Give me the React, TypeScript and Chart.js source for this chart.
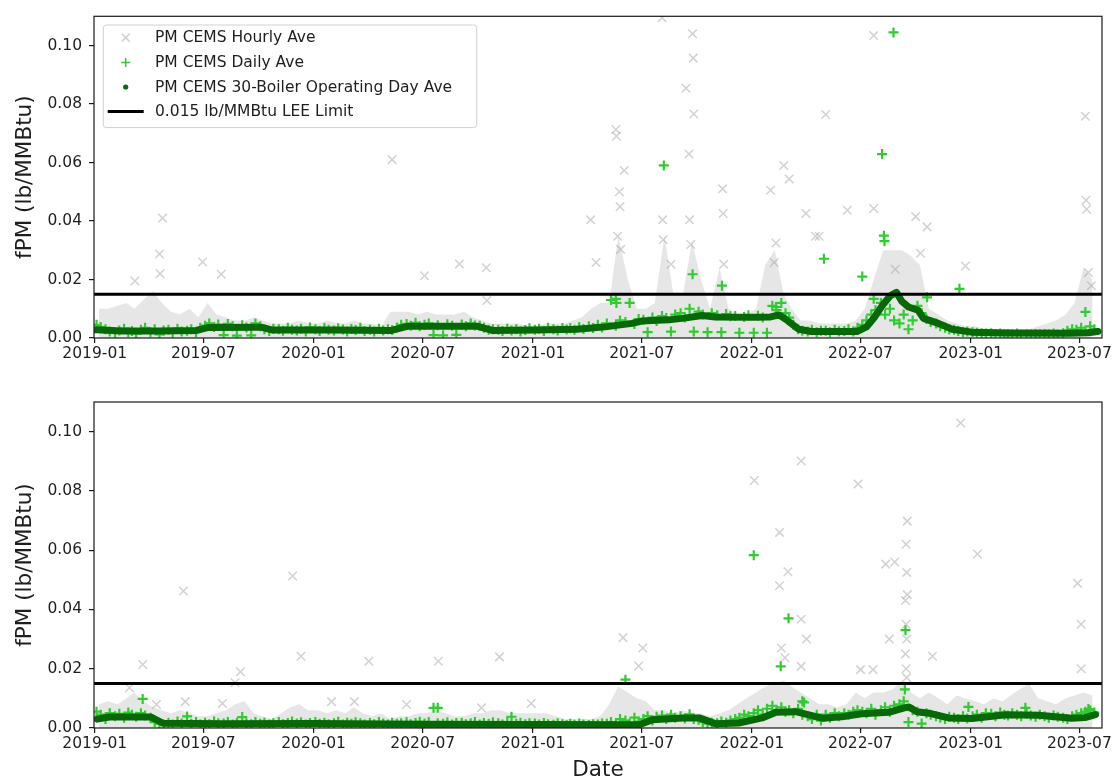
import React, { useEffect, useRef } from 'react';
import { Chart, registerables } from 'chart.js';

Chart.register(...registerables);

type Pair = [string, number];

// ---------- axes / text ----------
const X_TICK_LABELS = ['2019-01', '2019-07', '2020-01', '2020-07', '2021-01', '2021-07', '2022-01', '2022-07', '2023-01', '2023-07'];
const Y_TICKS = [0, 0.02, 0.04, 0.06, 0.08, 0.1];
const Y_LABEL = 'fPM (lb/MMBtu)';
const X_LABEL = 'Date';
const LEGEND_LABELS = ['PM CEMS Hourly Ave', 'PM CEMS Daily Ave', 'PM CEMS 30-Boiler Operating Day Ave', '0.015 lb/MMBtu LEE Limit'];
const LEE_LIMIT = 0.015;
const Y_MIN = 0;
const Y_MAX = 0.11;
const X_START = '2018-12-30';
const X_END = '2023-08-08';

// sampling grids (days of month) for dense clouds, one value per grid day, months from 2019-01
const DAILY_GRID_DAYS = [4, 11, 19, 26];
const BAND_GRID_DAYS = [8, 23];

// ---------- TOP PANEL ----------
const topAvg30: Pair[] = [
  ['2019-01-03', 0.0028], ['2019-02-15', 0.0024], ['2019-04-15', 0.0024], ['2019-06-20', 0.0026],
  ['2019-07-10', 0.0036], ['2019-10-05', 0.0037], ['2019-10-25', 0.0027], ['2020-02-01', 0.0027],
  ['2020-05-10', 0.0026], ['2020-06-05', 0.004], ['2020-10-01', 0.004], ['2020-10-25', 0.0026],
  ['2021-01-01', 0.0027], ['2021-03-15', 0.003], ['2021-05-01', 0.0038], ['2021-06-15', 0.005],
  ['2021-07-01', 0.0058], ['2021-08-15', 0.0062], ['2021-09-10', 0.0068], ['2021-10-10', 0.0077],
  ['2021-11-01', 0.0072], ['2022-01-01', 0.0071], ['2022-02-01', 0.0072], ['2022-02-15', 0.0079],
  ['2022-03-01', 0.006], ['2022-03-20', 0.003], ['2022-04-10', 0.0022], ['2022-06-25', 0.0022],
  ['2022-07-11', 0.0038], ['2022-07-24', 0.007], ['2022-08-06', 0.011], ['2022-08-20', 0.0145],
  ['2022-08-30', 0.0156], ['2022-09-08', 0.0125], ['2022-09-19', 0.0106], ['2022-10-05', 0.0095],
  ['2022-10-14', 0.0067], ['2022-11-08', 0.005], ['2022-12-01', 0.003], ['2023-01-02', 0.002],
  ['2023-03-01', 0.0017], ['2023-06-15', 0.0016], ['2023-07-15', 0.0018], ['2023-08-01', 0.0022],
];

const topDailyBand: number[] = [
  // 2019
  .0045, .0038, .0030, .0022, .0018, .0026, .0032, .0020, .0024, .0015, .0028, .0035,
  .0020, .0030, .0012, .0026, .0028, .0018, .0032, .0022, .0025, .0030, .0020, .0035,
  .0042, .0050, .0038, .0046, .0010, .0048, .0040, .0008, .0044, .0036, .0009, .0050,
  .0040, .0030, .0024, .0032, .0030, .0025, .0035, .0028, .0026, .0032, .0022, .0036,
  // 2020
  .0030, .0024, .0034, .0028, .0026, .0033, .0029, .0022, .0031, .0027, .0035, .0024,
  .0028, .0022, .0032, .0026, .0030, .0027, .0036, .0045, .0048, .0042, .0052, .0040,
  .0045, .0050, .0010, .0044, .0009, .0047, .0042, .0011, .0046, .0040, .0050, .0043,
  .0042, .0035, .0028, .0030, .0028, .0024, .0032, .0026, .0030, .0022, .0027, .0033,
  // 2021
  .0028, .0032, .0024, .0035, .0030, .0026, .0034, .0029, .0033, .0028, .0038, .0031,
  .0040, .0034, .0045, .0036, .0050, .0130, .0042, .0060, .0055, .0120, .0048, .0065,
  .0062, .0020, .0070, .0058, .0075, .0068, .0022, .0080, .0085, .0070, .0100, .0022,
  .0090, .0080, .0020, .0085, .0078, .0020, .0082, .0074, .0075, .0018, .0072, .0078,
  // 2022
  .0018, .0076, .0070, .0018, .0110, .0095, .0120, .0085, .0070, .0045, .0030, .0025,
  .0022, .0028, .0020, .0025, .0025, .0020, .0028, .0023, .0024, .0030, .0022, .0035,
  .0045, .0060, .0080, .0095, .0120, .0080, .0100, .0060, .0050, .0080, .0030, .0060,
  .0110, .0085, .0065, .0055, .0050, .0040, .0035, .0030, .0028, .0024, .0020, .0022,
  // 2023
  .0020, .0018, .0016, .0015, .0016, .0014, .0015, .0013, .0014, .0013, .0015, .0012,
  .0013, .0012, .0014, .0013, .0014, .0013, .0015, .0012, .0016, .0025, .0030, .0028,
  .0035, .0025, .0040, .0030,
];

const topDailyExtra: Pair[] = [
  ['2021-05-19', 0.0134], ['2021-05-20', 0.012], ['2021-08-07', 0.059], ['2021-09-24', 0.0218],
  ['2021-11-12', 0.0179], ['2022-02-10', 0.0106], ['2022-05-01', 0.0271], ['2022-07-04', 0.021],
  ['2022-07-23', 0.0134], ['2022-08-06', 0.0629], ['2022-08-09', 0.035], ['2022-08-10', 0.0331],
  ['2022-08-25', 0.1045], ['2022-10-20', 0.0139], ['2022-12-13', 0.0168], ['2023-07-11', 0.0089],
];

const topHourlyBand: number[] = [
  // 2019
  .010, .010, .011, .012, .010, .013, .016, .012, .009, .008, .010, .007,
  .012, .008, .007, .006, .006, .007, .006, .005, .005, .005, .006, .005,
  // 2020
  .005, .006, .005, .005, .006, .005, .005, .004, .009, .009, .009, .008,
  .009, .008, .008, .008, .009, .007, .006, .005, .005, .005, .005, .004,
  // 2021
  .004, .005, .005, .005, .006, .007, .010, .012, .012, .035, .020, .010,
  .010, .012, .035, .015, .015, .033, .020, .010, .024, .010, .008, .008,
  // 2022
  .010, .025, .030, .015, .010, .006, .006, .005, .005, .005, .005, .006,
  .010, .020, .030, .030, .030, .028, .025, .010, .008, .006, .005, .004,
  // 2023
  .004, .003, .003, .003, .003, .003, .003, .004, .005, .006, .008, .012,
  .024, .020,
];

const topHourly: Pair[] = [
  ['2019-03-09', 0.0195], ['2019-04-19', 0.0287], ['2019-04-24', 0.041], ['2019-04-20', 0.022],
  ['2019-06-30', 0.026], ['2019-07-31', 0.0218], ['2020-05-11', 0.061], ['2020-07-04', 0.0213],
  ['2020-08-31', 0.0253], ['2020-10-15', 0.024], ['2020-10-16', 0.0128], ['2021-04-07', 0.0404],
  ['2021-04-16', 0.0258], ['2021-05-19', 0.0713], ['2021-05-20', 0.069], ['2021-06-02', 0.0573],
  ['2021-05-25', 0.05], ['2021-05-26', 0.0449], ['2021-05-22', 0.0348], ['2021-05-27', 0.0303],
  ['2021-08-04', 0.1095], ['2021-08-05', 0.0404], ['2021-08-06', 0.0336], ['2021-08-19', 0.0252],
  ['2021-09-13', 0.0854], ['2021-09-18', 0.0629], ['2021-09-19', 0.0404], ['2021-09-21', 0.032],
  ['2021-09-24', 0.104], ['2021-09-25', 0.0957], ['2021-09-26', 0.0766], ['2021-11-13', 0.051],
  ['2021-11-14', 0.0426], ['2021-11-15', 0.0252], ['2022-02-01', 0.0505], ['2022-02-07', 0.0258],
  ['2022-02-10', 0.0325], ['2022-02-23', 0.059], ['2022-03-04', 0.0544], ['2022-04-01', 0.0426],
  ['2022-04-17', 0.0348], ['2022-04-23', 0.0348], ['2022-05-04', 0.0764], ['2022-06-09', 0.0437],
  ['2022-07-23', 0.0443], ['2022-07-23', 0.1034], ['2022-08-28', 0.0235], ['2022-10-01', 0.0415],
  ['2022-10-09', 0.029], ['2022-10-20', 0.038], ['2022-12-23', 0.0246], ['2023-07-11', 0.0758],
  ['2023-07-12', 0.0471], ['2023-07-13', 0.044], ['2023-07-16', 0.0224], ['2023-07-21', 0.0179],
];

// ---------- BOTTOM PANEL ----------
const botAvg30: Pair[] = [
  ['2019-01-05', 0.003], ['2019-01-25', 0.0037], ['2019-04-05', 0.0037], ['2019-04-25', 0.0016],
  ['2019-08-01', 0.0014], ['2020-01-01', 0.0015], ['2020-07-01', 0.0013], ['2021-01-01', 0.0012],
  ['2021-06-27', 0.0011], ['2021-07-19', 0.0028], ['2021-09-07', 0.0034], ['2021-10-05', 0.0034],
  ['2021-11-02', 0.0014], ['2021-12-10', 0.0017], ['2022-01-18', 0.0034], ['2022-02-10', 0.0053],
  ['2022-03-15', 0.0055], ['2022-04-28', 0.0033], ['2022-05-31', 0.0038], ['2022-07-03', 0.0048],
  ['2022-08-17', 0.0053], ['2022-09-12', 0.0068], ['2022-09-20', 0.0071], ['2022-10-03', 0.0055],
  ['2022-10-23', 0.005], ['2022-11-25', 0.0034], ['2023-01-03', 0.0032], ['2023-02-28', 0.0045],
  ['2023-04-24', 0.0043], ['2023-06-18', 0.0033], ['2023-07-10', 0.0035], ['2023-07-28', 0.0045],
];

const botDailyBand: number[] = [
  // 2019
  .0055, .0045, .0030, .0050, .0040, .0048, .0035, .0052, .0045, .0038, .0050, .0042,
  .0035, .0020, .0015, .0012, .0018, .0012, .0022, .0015, .0039, .0014, .0020, .0012,
  .0018, .0013, .0022, .0016, .0015, .0020, .0012, .0018, .0037, .0016, .0013, .0020,
  .0014, .0018, .0012, .0016, .0020, .0013, .0017, .0022, .0015, .0019, .0012, .0017,
  // 2020
  .0020, .0014, .0018, .0013, .0016, .0021, .0012, .0018, .0014, .0019, .0016, .0012,
  .0017, .0013, .0020, .0015, .0012, .0018, .0014, .0016, .0019, .0013, .0017, .0021,
  .0015, .0020, .0068, .0016, .0014, .0019, .0012, .0017, .0018, .0013, .0016, .0020,
  .0012, .0017, .0014, .0019, .0016, .0012, .0020, .0038, .0014, .0018, .0013, .0016,
  // 2021
  .0015, .0012, .0017, .0013, .0011, .0016, .0013, .0010, .0014, .0011, .0015, .0012,
  .0010, .0013, .0012, .0015, .0014, .0020, .0012, .0030, .0025, .0015, .0035, .0022,
  .0030, .0040, .0025, .0038, .0042, .0030, .0045, .0035, .0040, .0032, .0046, .0030,
  .0028, .0020, .0015, .0018, .0016, .0022, .0018, .0025, .0030, .0035, .0045, .0040,
  // 2022
  .0050, .0060, .0045, .0065, .0075, .0060, .0070, .0055, .0060, .0050, .0065, .0045,
  .0040, .0030, .0045, .0025, .0045, .0035, .0050, .0040, .0050, .0045, .0055, .0060,
  .0055, .0050, .0065, .0045, .0060, .0070, .0055, .0075, .0080, .0090, .0020, .0060,
  .0055, .0015, .0050, .0045, .0040, .0035, .0030, .0038, .0035, .0030, .0040, .0032,
  // 2023
  .0040, .0045, .0035, .0050, .0048, .0040, .0052, .0045, .0042, .0050, .0045, .0040,
  .0048, .0042, .0038, .0045, .0040, .0035, .0042, .0038, .0035, .0030, .0040, .0045,
  .0050, .0055, .0060, .0052,
];

const botDailyExtra: Pair[] = [
  ['2019-03-22', 0.0098], ['2020-07-26', 0.0068], ['2021-06-04', 0.0163], ['2022-01-04', 0.0583],
  ['2022-02-18', 0.0208], ['2022-03-03', 0.037], ['2022-03-26', 0.009], ['2022-03-29', 0.0086],
  ['2022-09-13', 0.013], ['2022-09-14', 0.033], ['2022-12-28', 0.0071], ['2023-04-02', 0.0068],
  ['2023-07-16', 0.0064],
];

const botHourlyBand: number[] = [
  // 2019
  .008, .009, .008, .010, .012, .009, .007, .006, .005, .006, .005, .004,
  .004, .005, .006, .008, .009, .005, .004, .003, .005, .007, .008, .006,
  // 2020
  .006, .005, .006, .005, .007, .005, .004, .005, .003, .004, .004, .005,
  .005, .006, .005, .004, .004, .005, .005, .006, .006, .005, .005, .005,
  // 2021
  .005, .005, .004, .003, .003, .003, .003, .004, .008, .014, .012, .010,
  .009, .006, .006, .005, .006, .005, .005, .004, .005, .006, .008, .010,
  // 2022
  .012, .014, .015, .016, .014, .012, .010, .008, .008, .007, .008, .012,
  .010, .012, .012, .013, .016, .012, .010, .012, .010, .008, .011, .010,
  // 2023
  .009, .008, .010, .009, .011, .013, .015, .010, .009, .008, .010, .011,
  .012, .011,
];

const botHourly: Pair[] = [
  ['2019-02-28', 0.0136], ['2019-03-22', 0.0214], ['2019-04-14', 0.0079], ['2019-05-29', 0.0462],
  ['2019-06-01', 0.0089], ['2019-08-02', 0.0083], ['2019-08-23', 0.0153], ['2019-09-01', 0.019],
  ['2019-11-27', 0.0513], ['2019-12-11', 0.0242], ['2020-01-31', 0.0089], ['2020-03-09', 0.0089],
  ['2020-04-02', 0.0225], ['2020-06-04', 0.0079], ['2020-07-27', 0.0225], ['2020-10-07', 0.0068],
  ['2020-11-06', 0.024], ['2020-12-29', 0.0083], ['2021-05-31', 0.0305], ['2021-06-26', 0.0209],
  ['2021-07-03', 0.027], ['2022-01-05', 0.0835], ['2022-02-16', 0.066], ['2022-02-16', 0.048],
  ['2022-02-19', 0.027], ['2022-02-25', 0.0237], ['2022-03-02', 0.0527], ['2022-03-24', 0.0901],
  ['2022-03-24', 0.0367], ['2022-03-24', 0.0208], ['2022-04-02', 0.03], ['2022-06-27', 0.0823],
  ['2022-07-01', 0.0197], ['2022-07-22', 0.0197], ['2022-08-12', 0.0553], ['2022-08-18', 0.03],
  ['2022-08-27', 0.056], ['2022-09-14', 0.043], ['2022-09-14', 0.025], ['2022-09-15', 0.062],
  ['2022-09-15', 0.035], ['2022-09-15', 0.02], ['2022-09-16', 0.0525], ['2022-09-16', 0.03],
  ['2022-09-16', 0.017], ['2022-09-17', 0.0698], ['2022-09-17', 0.045], ['2022-10-29', 0.0242],
  ['2022-12-15', 0.1029], ['2023-01-12', 0.0587], ['2023-06-28', 0.0488], ['2023-07-04', 0.035],
  ['2023-07-04', 0.02],
];

// ---------- styling ----------
const FONT = '"DejaVu Sans", "Liberation Sans", sans-serif';
const TEXT = '#1e1e1e';
const HOURLY_COLOR = 'rgba(155,155,155,0.45)';
const HOURLY_FILL = 'rgba(190,190,190,0.38)';
const DAILY_COLOR = '#2fcc2f';
const AVG_COLOR = '#066806';

const ORIGIN = Date.UTC(2019, 0, 1);
const DAY_MS = 86400000;
const dayOf = (s: string) => {
  const [y, m, d] = s.split('-').map(Number);
  return (Date.UTC(y, m - 1, d || 1) - ORIGIN) / DAY_MS;
};
const gridPoints = (values: number[], days: number[]) =>
  values.map((v, i) => ({
    x: (Date.UTC(2019, Math.floor(i / days.length), days[i % days.length]) - ORIGIN) / DAY_MS,
    y: v,
  }));
const pairPoints = (pairs: Pair[]) => pairs.map(([d, v]) => ({ x: dayOf(d), y: v }));

interface PanelData {
  avg30: Pair[];
  dailyBand: number[];
  dailyExtra: Pair[];
  hourlyBand: number[];
  hourly: Pair[];
}

const framePlugin = {
  id: 'frame',
  afterDatasetsDraw(chart: any) {
    const { ctx, chartArea: a } = chart;
    ctx.save();
    ctx.strokeStyle = '#1a1a1a';
    ctx.lineWidth = 1.2;
    ctx.strokeRect(a.left, a.top, a.right - a.left, a.bottom - a.top);
    ctx.restore();
  },
};

const legendPlugin = {
  id: 'mplLegend',
  afterDatasetsDraw(chart: any, _args: any, opts: any) {
    if (!opts || !opts.show) return;
    const { ctx, chartArea: a } = chart;
    ctx.save();
    const x0 = a.left + 9.3;
    const y0 = a.top + 8.7;
    ctx.beginPath();
    ctx.roundRect(x0, y0, 373.4, 102.6, 3);
    ctx.fillStyle = 'rgba(255,255,255,0.85)';
    ctx.fill();
    ctx.strokeStyle = '#d0d0d0';
    ctx.lineWidth = 1;
    ctx.stroke();
    const mx = a.left + 31.7;
    const tx = a.left + 61;
    const rows = [21.3, 46.3, 70.7, 95.3].map((r) => a.top + r);
    // hourly marker (x)
    ctx.strokeStyle = HOURLY_COLOR;
    ctx.lineWidth = 1.5;
    ctx.beginPath();
    ctx.moveTo(mx - 4, rows[0] - 4); ctx.lineTo(mx + 4, rows[0] + 4);
    ctx.moveTo(mx - 4, rows[0] + 4); ctx.lineTo(mx + 4, rows[0] - 4);
    ctx.stroke();
    // daily marker (+)
    ctx.strokeStyle = DAILY_COLOR;
    ctx.beginPath();
    ctx.moveTo(mx - 4.5, rows[1]); ctx.lineTo(mx + 4.5, rows[1]);
    ctx.moveTo(mx, rows[1] - 4.5); ctx.lineTo(mx, rows[1] + 4.5);
    ctx.stroke();
    // 30-day marker (.)
    ctx.fillStyle = AVG_COLOR;
    ctx.beginPath();
    ctx.arc(mx, rows[2], 2.6, 0, Math.PI * 2);
    ctx.fill();
    // limit line
    ctx.strokeStyle = '#000';
    ctx.lineWidth = 3;
    ctx.beginPath();
    ctx.moveTo(mx - 18, rows[3]); ctx.lineTo(mx + 18, rows[3]);
    ctx.stroke();
    ctx.fillStyle = TEXT;
    ctx.font = `15.5px ${FONT}`;
    ctx.textBaseline = 'middle';
    ctx.textAlign = 'left';
    LEGEND_LABELS.forEach((l, i) => ctx.fillText(l, tx, rows[i] + 0.5));
    ctx.restore();
  },
};

function buildConfig(p: PanelData, padTop: number, xAxisH: number, showLegend: boolean, showXTitle: boolean): any {
  const xMin = dayOf(X_START) + 0.8;
  const xMax = dayOf(X_END) - 0.3;
  const daily = [...gridPoints(p.dailyBand, DAILY_GRID_DAYS), ...pairPoints(p.dailyExtra)];
  return {
    type: 'line',
    data: {
      datasets: [
        {
          label: 'hourly-cloud',
          data: gridPoints(p.hourlyBand, BAND_GRID_DAYS),
          showLine: true,
          fill: 'origin',
          backgroundColor: HOURLY_FILL,
          borderColor: 'rgba(0,0,0,0)',
          borderWidth: 1,
          pointRadius: 0,
          tension: 0,
          order: 10,
        },
        {
          label: LEGEND_LABELS[0],
          data: pairPoints(p.hourly),
          showLine: false,
          pointStyle: 'crossRot',
          pointRadius: 6,
          pointBorderWidth: 1.5,
          pointBorderColor: HOURLY_COLOR,
          pointBackgroundColor: HOURLY_COLOR,
          borderColor: HOURLY_COLOR,
          order: 9,
        },
        {
          label: LEGEND_LABELS[1],
          data: daily,
          showLine: false,
          pointStyle: 'cross',
          pointRadius: 5,
          pointBorderWidth: 2.2,
          pointBorderColor: DAILY_COLOR,
          pointBackgroundColor: DAILY_COLOR,
          borderColor: DAILY_COLOR,
          order: 8,
        },
        {
          label: LEGEND_LABELS[2],
          data: pairPoints(p.avg30),
          showLine: true,
          borderColor: AVG_COLOR,
          backgroundColor: AVG_COLOR,
          borderWidth: 7,
          borderCapStyle: 'round',
          borderJoinStyle: 'round',
          pointRadius: 0,
          tension: 0,
          fill: false,
          order: 7,
        },
        {
          label: LEGEND_LABELS[3],
          data: [{ x: xMin, y: LEE_LIMIT }, { x: xMax, y: LEE_LIMIT }],
          showLine: true,
          borderColor: '#000',
          borderWidth: 3,
          pointRadius: 0,
          fill: false,
          order: 6,
        },
      ],
    },
    options: {
      animation: false,
      responsive: false,
      maintainAspectRatio: false,
      devicePixelRatio: 1,
      events: [],
      layout: { padding: { left: 0, right: 11, top: padTop, bottom: 0 } },
      plugins: {
        legend: { display: false },
        tooltip: { enabled: false },
        mplLegend: { show: showLegend },
      },
      scales: {
        x: {
          type: 'linear',
          min: xMin,
          max: xMax,
          afterBuildTicks: (s: any) => {
            s.ticks = X_TICK_LABELS.map((l) => ({ value: dayOf(l + '-01') }));
          },
          afterFit: (s: any) => {
            s.height = xAxisH;
          },
          ticks: {
            autoSkip: false,
            maxRotation: 0,
            minRotation: 0,
            padding: 3,
            color: TEXT,
            font: { family: FONT, size: 15.5, lineHeight: 1 },
            callback: (_v: any, i: number) => X_TICK_LABELS[i],
          },
          grid: { drawOnChartArea: false, drawTicks: true, tickLength: 5, color: '#1a1a1a', lineWidth: 1.2 },
          border: { display: false },
          title: {
            display: showXTitle,
            text: X_LABEL,
            color: TEXT,
            font: { family: FONT, size: 21.5 },
            padding: { top: 0, bottom: 0 },
          },
        },
        y: {
          type: 'linear',
          min: Y_MIN,
          max: Y_MAX,
          afterBuildTicks: (s: any) => {
            s.ticks = Y_TICKS.map((v) => ({ value: v }));
          },
          afterFit: (s: any) => {
            s.width = 94;
          },
          ticks: {
            padding: 7,
            color: TEXT,
            font: { family: FONT, size: 15.5 },
            callback: (v: any) => Number(v).toFixed(2),
          },
          grid: { drawOnChartArea: false, drawTicks: true, tickLength: 5, color: '#1a1a1a', lineWidth: 1.2 },
          border: { display: false },
          title: {
            display: true,
            text: Y_LABEL,
            color: TEXT,
            font: { family: FONT, size: 21.5 },
            padding: { top: 13, bottom: 0 },
          },
        },
      },
    },
    plugins: [framePlugin, legendPlugin],
  };
}

function Panel(props: { data: PanelData; top: number; height: number; padTop: number; xAxisH: number; legend: boolean; xTitle: boolean }) {
  const ref = useRef<HTMLCanvasElement>(null);
  useEffect(() => {
    if (!ref.current) return;
    const chart = new Chart(ref.current, buildConfig(props.data, props.padTop, props.xAxisH, props.legend, props.xTitle));
    return () => chart.destroy();
  }, []);
  return (
    <canvas
      ref={ref}
      width={1115}
      height={props.height}
      style={{ position: 'absolute', left: 0, top: props.top, width: 1115, height: props.height, display: 'block' }}
    />
  );
}

const TOP_DATA: PanelData = { avg30: topAvg30, dailyBand: topDailyBand, dailyExtra: topDailyExtra, hourlyBand: topHourlyBand, hourly: topHourly };
const BOT_DATA: PanelData = { avg30: botAvg30, dailyBand: botDailyBand, dailyExtra: botDailyExtra, hourlyBand: botHourlyBand, hourly: botHourly };

export default function App() {
  return (
    <div style={{ position: 'absolute', left: 0, top: 0, width: 1115, height: 783, background: '#fff', overflow: 'hidden' }}>
      <Panel data={TOP_DATA} top={0} height={375} padTop={12} xAxisH={37} legend={true} xTitle={false} />
      <Panel data={BOT_DATA} top={375} height={408} padTop={27} xAxisH={55} legend={false} xTitle={true} />
    </div>
  );
}
